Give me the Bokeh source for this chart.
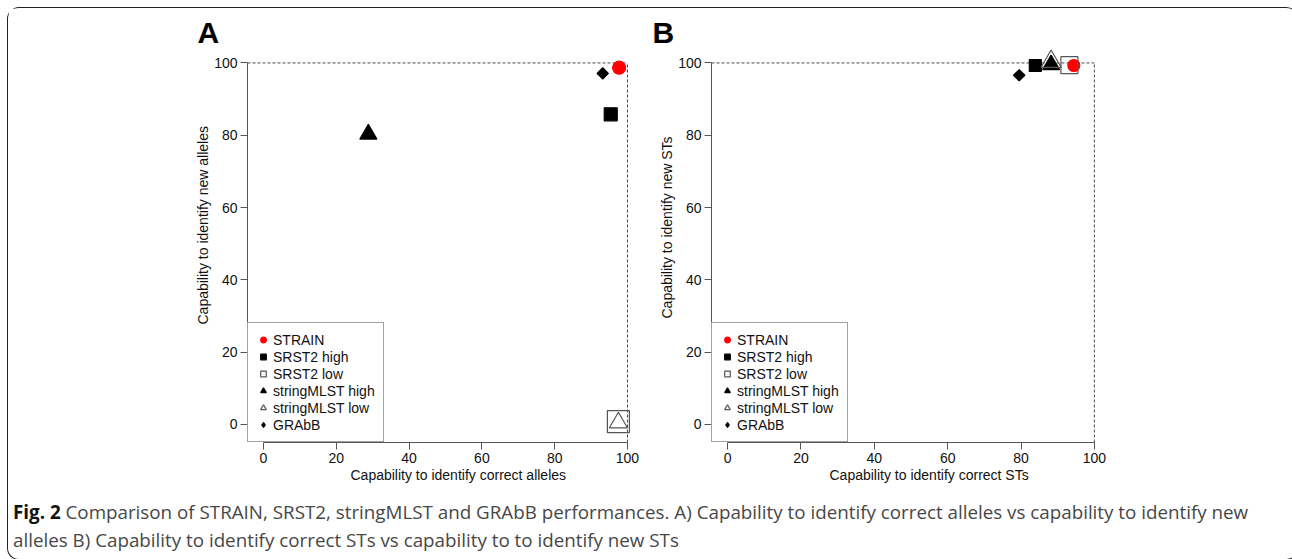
from math import pi
from bokeh.plotting import figure
from bokeh.models import Legend, LegendItem, Div, Title, ColumnDataSource, Range1d
from bokeh.layouts import column, row
from bokeh.embed import file_html
from bokeh.resources import INLINE

# ---------------- data ----------------
methods = ["STRAIN", "SRST2 high", "SRST2 low", "stringMLST high", "stringMLST low", "GRAbB"]
a_correct_alleles = [97.7, 95.4, 97.5, 28.8, 97.5, 93.2]
a_new_alleles = [98.7, 85.8, 0.8, 80.3, 0.5, 97.1]
b_correct_sts = [94.4, 83.9, 93.2, 88.2, 88.2, 79.5]
b_new_sts = [99.3, 99.3, 99.4, 99.5, 100.4, 96.6]
ticks = [0, 20, 40, 60, 80, 100]
limit = [100]

caption_line1 = ("Comparison of STRAIN, SRST2, stringMLST and GRAbB performances. A) Capability to "
                 "identify correct alleles vs capability to identify new")
caption_line2 = "alleles B) Capability to identify correct STs vs capability to to identify new STs"

# ---------------- style ----------------
FONT = "Liberation Sans"
markers = ["circle", "square", "square", "triangle", "triangle", "square"]
fills = ["#ff0000", "black", None, "black", None, "black"]
lines = ["#ff0000", "black", "#555555", "black", "#555555", "black"]
angles = [0, 0, 0, 0, 0, pi / 4]
sizes_a = [13, 13, 22, 17, 18, 8]
sizes_b = [12, 12, 17, 17, 20, 8]


def make_panel(letter, xs, ys, sizes, xlabel, ylabel, width, left, right,
               letter_offset, xlab_offset, ylab_offset):
    p = figure(width=width, height=482, x_range=Range1d(-4.4, 104.4), y_range=Range1d(-5, 104),
               output_backend="svg", toolbar_location=None, tools="",
               min_border_left=left, min_border_right=right,
               min_border_top=40, min_border_bottom=48)
    p.title.text = letter
    p.title.align = "left"
    p.title.offset = letter_offset
    p.title.standoff = 0
    p.title.text_font = FONT
    p.title.text_font_size = "30px"
    p.title.text_font_style = "bold"
    p.title.text_color = "black"
    p.grid.visible = False
    p.outline_line_color = None
    p.background_fill_color = "white"
    p.border_fill_color = "white"

    for ax in (p.xaxis[0], p.yaxis[0]):
        ax.bounds = (0, 100)
        ax.ticker = ticks
        ax.minor_tick_line_color = None
        ax.major_tick_out = 7
        ax.major_tick_in = 0
        ax.axis_line_color = "#555555"
        ax.major_tick_line_color = "#555555"
        ax.major_label_text_font = FONT
        ax.major_label_text_font_size = "14px"
        ax.major_label_text_color = "#111111"
        ax.major_label_standoff = 3

    xs0 = p.x_range.start
    ys0 = p.y_range.start
    # dotted reference lines at 100 %
    p.segment(x0=[xs0], y0=limit, x1=limit, y1=limit, line_color="#4a4a4a",
              line_dash="3 2", line_width=1)
    p.segment(x0=limit, y0=[ys0], x1=limit, y1=limit, line_color="#4a4a4a",
              line_dash="3 2", line_width=1)

    items = []
    for i, m in enumerate(methods):
        src = ColumnDataSource(dict(x=[xs[i]], y=[ys[i]]))
        leg_r = None
        if angles[i] != 0:
            # small diamond hidden beneath the rotated square: gives the legend a diamond glyph
            leg_r = p.scatter("x", "y", source=src, marker="diamond", size=6,
                              fill_color=fills[i], line_color=lines[i], line_width=1)
        r = p.scatter("x", "y", source=src, marker=markers[i], size=sizes[i],
                      fill_color=fills[i], line_color=lines[i], line_width=1.2,
                      angle=angles[i])
        items.append(LegendItem(label=m, renderers=[leg_r if leg_r is not None else r]))

    legend = Legend(items=items, location="bottom_left", margin=0, padding=8, spacing=0,
                    label_height=17, glyph_height=17, glyph_width=14, label_standoff=3,
                    label_text_font=FONT, label_text_font_size="14px",
                    label_text_color="#111111",
                    border_line_color="#444444", border_line_width=1,
                    background_fill_color="white", background_fill_alpha=1)
    p.add_layout(legend)

    xt = Title(text=xlabel, align="left", offset=xlab_offset, vertical_align="top",
               text_font=FONT, text_font_size="14px", text_font_style="normal",
               text_color="#111111", standoff=2)
    p.add_layout(xt, "below")
    yt = Title(text=ylabel, align="left", offset=ylab_offset, vertical_align="bottom",
               text_font=FONT, text_font_size="14px", text_font_style="normal",
               text_color="#111111", standoff=2)
    p.add_layout(yt, "left")
    return p


pA = make_panel("A", a_correct_alleles, a_new_alleles, sizes_a,
                "Capability to identify correct alleles", "Capability to identify new alleles",
                width=640, left=239, right=5, letter_offset=-50, xlab_offset=103, ylab_offset=118)
pB = make_panel("B", b_correct_sts, b_new_sts, sizes_b,
                "Capability to identify correct STs", "Capability to identify new STs",
                width=636, left=63, right=174, letter_offset=-59, xlab_offset=118, ylab_offset=124)

caption = Div(
    text=('<div style="font-family:\'Open Sans\';font-size:18.8px;line-height:28px;color:#474747;'
          'white-space:nowrap;padding:3px 0 0 0">'
          '<b style="color:#111">Fig. 2</b> ' + caption_line1 + '<br>' + caption_line2 + '</div>'),
    width=1280, height=59)

layout = column(row(pA, pB), caption,
                styles={"border": "1.5px solid #222", "border-radius": "12px",
                        "border-right": "none", "margin": "7px 0 0 7px"})

open("out.html", "w").write(file_html(layout, INLINE))
